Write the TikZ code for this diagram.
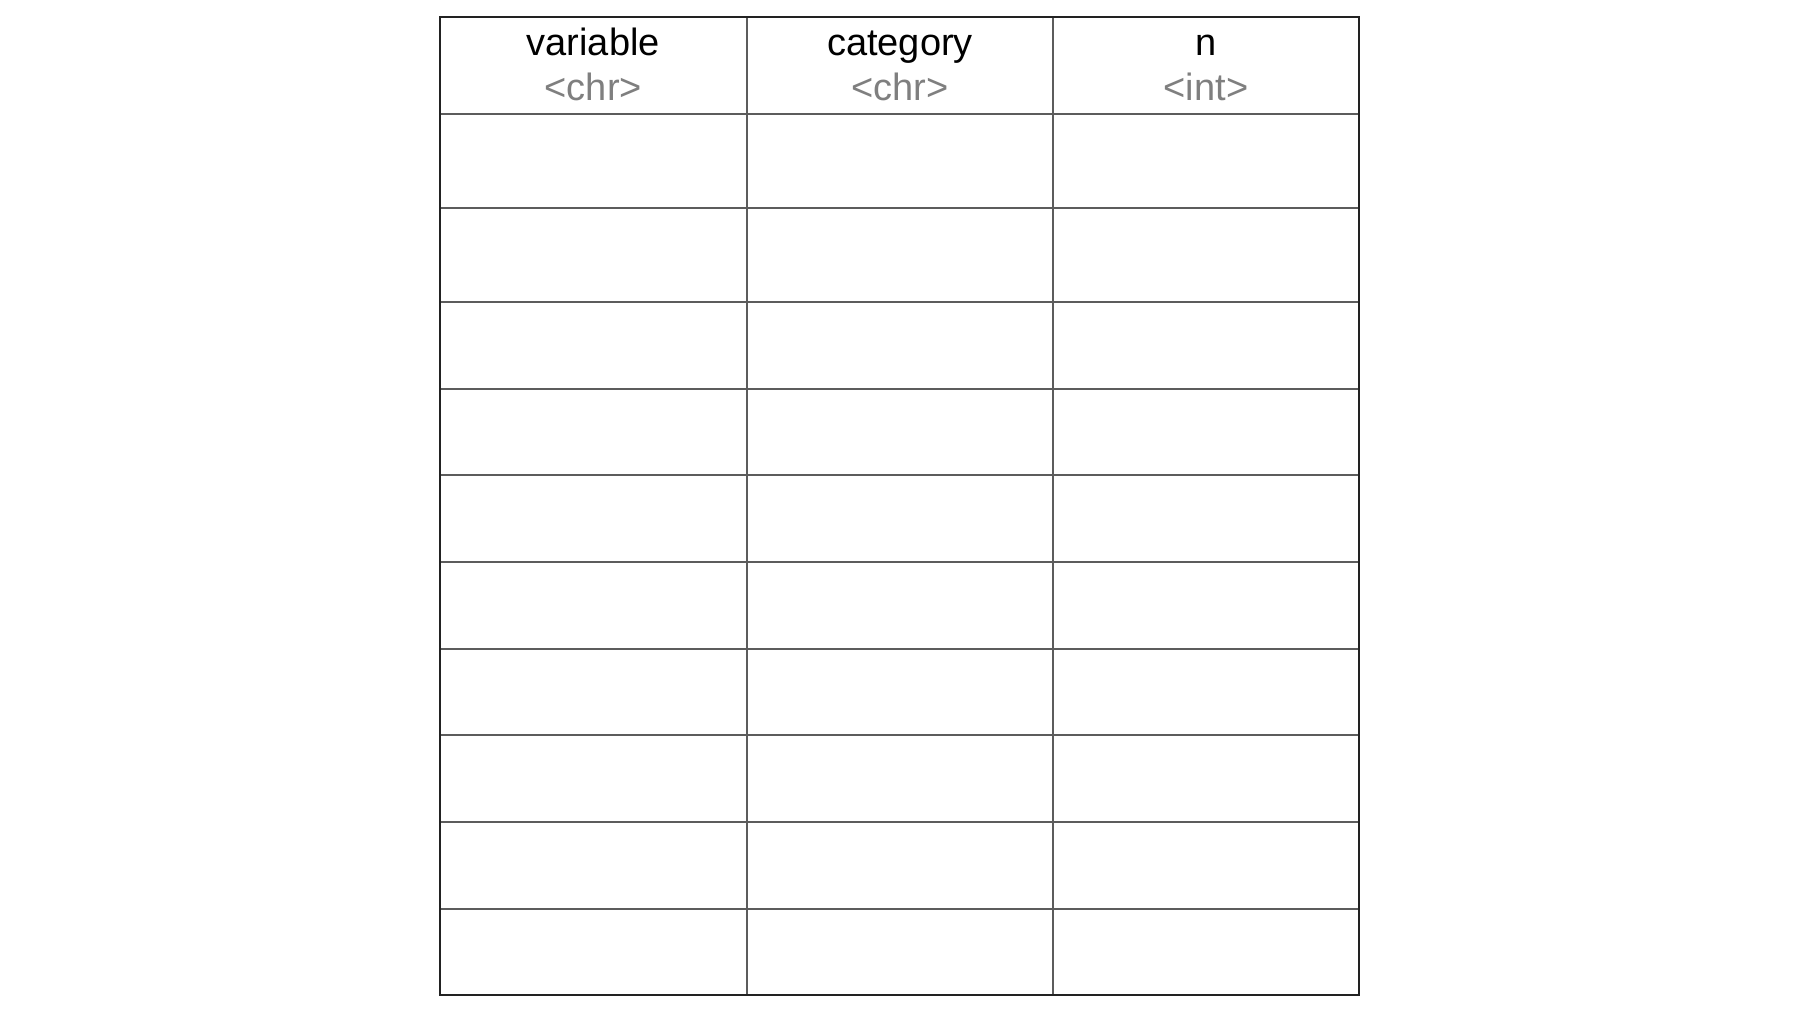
\documentclass[tikz,border=0pt]{standalone}
\usepackage{fontspec}
\setmainfont{Liberation Sans}
\definecolor{outerline}{HTML}{222222}
\definecolor{innerline}{HTML}{5C5C5C}
\definecolor{typegrey}{HTML}{7F7F7F}
\tikzset{
  hdr/.style={anchor=base, inner sep=0pt, font=\fontsize{19pt}{22pt}\selectfont, text=black},
  typ/.style={anchor=base, inner sep=0pt, font=\fontsize{19pt}{22pt}\selectfont, text=typegrey},
  gridline/.style={draw=innerline, line width=0.8pt},
  frame/.style={draw=outerline, line width=0.8pt}
}
\begin{document}
\begin{tikzpicture}[x=0.5pt, y=-0.5pt]
\useasboundingbox[fill=white] (0,0) rectangle (1800,1013);
% inner horizontal lines
\foreach \yy in {114,208,302,389,475,562,649,735,822,909}
  \draw[gridline] (440,\yy) -- (1359,\yy);
% inner vertical lines
\foreach \xx in {746.7,1053}
  \draw[gridline] (\xx,17) -- (\xx,995);
% outer frame
\draw[frame] (440,17) rectangle (1359,995);
% header texts
\node[hdr] (h1) at (593.3,55) {variable};
\node[typ] (t1) at (593.3,100) {<chr>};
\node[hdr] (h2) at (900,55) {category};
\node[typ] (t2) at (900,100) {<chr>};
\node[hdr] (h3) at (1206,55) {n};
\node[typ] (t3) at (1206,100) {<int>};
\end{tikzpicture}
\end{document}
